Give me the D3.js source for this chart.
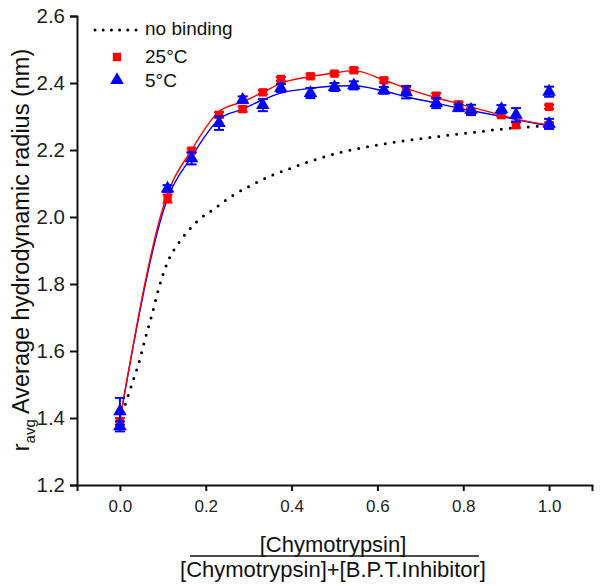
<!DOCTYPE html>
<html><head><meta charset="utf-8">
<script src="https://cdn.jsdelivr.net/npm/d3@7"></script>
<style>body{margin:0;background:#fff}svg{display:block}</style>
</head><body>
<svg id="chart" width="600" height="586"></svg>
<script>
// ---- data ----
const xTicks = [0.0, 0.2, 0.4, 0.6, 0.8, 1.0];
const yTicks = [1.2, 1.4, 1.6, 1.8, 2.0, 2.2, 2.4, 2.6];

const xRed  = [0, 0.111, 0.167, 0.231, 0.286, 0.333, 0.375, 0.444, 0.5, 0.545, 0.615, 0.667, 0.737, 0.789, 0.818, 0.889, 0.923, 1.0, 1.0];
const yRed  = [1.385, 2.055, 2.198, 2.305, 2.322, 2.372, 2.412, 2.420, 2.428, 2.438, 2.408, 2.382, 2.362, 2.336, 2.314, 2.304, 2.274, 2.329, 2.274];
const eRed  = [0.015, 0.012, 0.006, 0.008, 0.008, 0.006, 0.006, 0.006, 0.005, 0.006, 0.006, 0.008, 0.008, 0.008, 0.010, 0.006, 0.008, 0.006, 0.008];

const xBlue = [0, 0, 0.111, 0.167, 0.231, 0.286, 0.333, 0.375, 0.444, 0.5, 0.545, 0.615, 0.667, 0.737, 0.789, 0.818, 0.889, 0.923, 1.0, 1.0];
const yBlue = [1.420, 1.375, 2.085, 2.175, 2.280, 2.350, 2.334, 2.385, 2.370, 2.388, 2.393, 2.378, 2.372, 2.340, 2.326, 2.320, 2.322, 2.305, 2.374, 2.278];
const eBlue = [0.040, 0.015, 0.010, 0.018, 0.020, 0.010, 0.018, 0.012, 0.015, 0.012, 0.012, 0.010, 0.018, 0.015, 0.010, 0.015, 0.012, 0.020, 0.015, 0.015];

const fitX    = [0, 0.111, 0.167, 0.231, 0.286, 0.333, 0.375, 0.444, 0.5, 0.545, 0.615, 0.667, 0.737, 0.789, 0.818, 0.889, 0.923, 1.0];
const fitRed  = [1.395, 2.070, 2.200, 2.315, 2.344, 2.372, 2.399, 2.419, 2.430, 2.437, 2.409, 2.384, 2.356, 2.338, 2.328, 2.304, 2.292, 2.275];
const fitBlue = [1.395, 2.055, 2.180, 2.292, 2.322, 2.350, 2.370, 2.384, 2.391, 2.392, 2.376, 2.359, 2.340, 2.325, 2.318, 2.300, 2.291, 2.272];

const nbX = [0, 0.016, 0.031, 0.045, 0.057, 0.075, 0.09, 0.11, 0.14, 0.16, 0.187, 0.218, 0.265, 0.308, 0.35, 0.397, 0.44, 0.506, 0.6, 0.709, 0.818, 0.911, 0.988];
const nbY = [1.39, 1.454, 1.513, 1.568, 1.628, 1.71, 1.785, 1.862, 1.928, 1.960, 1.995, 2.023, 2.066, 2.096, 2.122, 2.145, 2.165, 2.190, 2.215, 2.235, 2.252, 2.265, 2.272];

const legendLabels = ["no binding", "25\u00B0C", "5\u00B0C"];
const RED = "#ff0000", BLUE = "#0000ff";

// ---- chart ----
const svg = d3.select("#chart");
const x = d3.scaleLinear().domain([-0.1, 1.1]).range([77, 592]);
const y = d3.scaleLinear().domain([1.2, 2.6]).range([485, 16]);
const font = "Arial, 'Liberation Sans', Helvetica, sans-serif";

const xAxis = svg.append("g").attr("transform", "translate(0,485)")
  .call(d3.axisBottom(x).tickValues(xTicks).tickFormat(d3.format(".1f")).tickSizeOuter(0).tickSize(6).tickPadding(9));
const yAxis = svg.append("g").attr("transform", "translate(77,0)")
  .call(d3.axisLeft(y).tickValues(yTicks).tickFormat(d3.format(".1f")).tickSizeOuter(0).tickSize(7).tickPadding(5));
[xAxis, yAxis].forEach(g => {
  g.selectAll("path, line").attr("stroke", "#111").attr("stroke-width", 2);
  g.selectAll("text").attr("fill", "#222").attr("font-family", font);
});
xAxis.selectAll("text").attr("font-size", 17);
yAxis.selectAll("text").attr("font-size", 20.5);

// no binding dotted curve
svg.append("path")
  .datum(nbX.map((d, i) => [d, nbY[i]]))
  .attr("fill", "none").attr("stroke", "#000").attr("stroke-width", 3)
  .attr("stroke-dasharray", "0 9").attr("stroke-linecap", "round")
  .attr("d", d3.line().x(d => x(d[0])).y(d => y(d[1])).curve(d3.curveMonotoneX));

// fit lines
const fitLine = d3.line().x(d => x(d[0])).y(d => y(d[1])).curve(d3.curveMonotoneX);
svg.append("path").datum(fitX.map((d, i) => [d, fitBlue[i]]))
  .attr("fill", "none").attr("stroke", BLUE).attr("stroke-width", 1.4).attr("d", fitLine);
svg.append("path").datum(fitX.map((d, i) => [d, fitRed[i]]))
  .attr("fill", "none").attr("stroke", RED).attr("stroke-width", 1.4).attr("d", fitLine);

function drawSeries(xs, ys, es, color, sym, size) {
  const g = svg.append("g");
  const pts = xs.map((d, i) => ({x: d, y: ys[i], e: es[i]}));
  const cap = 5;
  pts.forEach(p => {
    const px = x(p.x), y0 = y(p.y - p.e), y1 = y(p.y + p.e);
    g.append("line").attr("x1", px).attr("x2", px).attr("y1", y0).attr("y2", y1).attr("stroke", color).attr("stroke-width", 2);
    g.append("line").attr("x1", px - cap).attr("x2", px + cap).attr("y1", y0).attr("y2", y0).attr("stroke", color).attr("stroke-width", 2);
    g.append("line").attr("x1", px - cap).attr("x2", px + cap).attr("y1", y1).attr("y2", y1).attr("stroke", color).attr("stroke-width", 2);
  });
  g.selectAll("path.m").data(pts).join("path").attr("class", "m")
    .attr("d", d3.symbol().type(sym).size(size))
    .attr("transform", d => `translate(${x(d.x)},${y(d.y)})`)
    .attr("fill", color);
}
drawSeries(xRed, yRed, eRed, RED, d3.symbolSquare, 70);
drawSeries(xBlue, yBlue, eBlue, BLUE, d3.symbolTriangle, 80);

// legend
const lg = svg.append("g");
lg.append("line").attr("x1", 95).attr("x2", 136).attr("y1", 30).attr("y2", 30)
  .attr("stroke", "#000").attr("stroke-width", 3).attr("stroke-dasharray", "0 8.2").attr("stroke-linecap", "round");
lg.append("path").attr("d", d3.symbol().type(d3.symbolSquare).size(70)).attr("transform", "translate(117,57)").attr("fill", RED);
lg.append("path").attr("d", d3.symbol().type(d3.symbolTriangle).size(80)).attr("transform", "translate(117,80)").attr("fill", BLUE);
[[35, 0], [63, 1], [87, 2]].forEach(([yy, i]) => {
  lg.append("text").attr("x", 145).attr("y", yy).text(legendLabels[i])
    .attr("font-family", font).attr("font-size", 19).attr("fill", "#111");
});

// y label
const yl = svg.append("text").attr("transform", "translate(29,250) rotate(-90)")
  .attr("text-anchor", "middle").attr("font-family", font).attr("font-size", 23.5).attr("fill", "#111");
yl.append("tspan").text("r");
yl.append("tspan").text("avg").attr("font-size", 15).attr("dy", 6);
yl.append("tspan").text(" Average hydrodynamic radius (nm)").attr("dy", -6);

// x label (fraction)
svg.append("text").attr("x", 333).attr("y", 552).attr("text-anchor", "middle")
  .attr("font-family", font).attr("font-size", 22).attr("fill", "#111").text("[Chymotrypsin]");
svg.append("line").attr("x1", 190).attr("x2", 479).attr("y1", 556).attr("y2", 556).attr("stroke", "#111").attr("stroke-width", 1.3);
svg.append("text").attr("x", 333).attr("y", 577).attr("text-anchor", "middle")
  .attr("font-family", font).attr("font-size", 22).attr("fill", "#111").text("[Chymotrypsin]+[B.P.T.Inhibitor]");
</script>
</body></html>
